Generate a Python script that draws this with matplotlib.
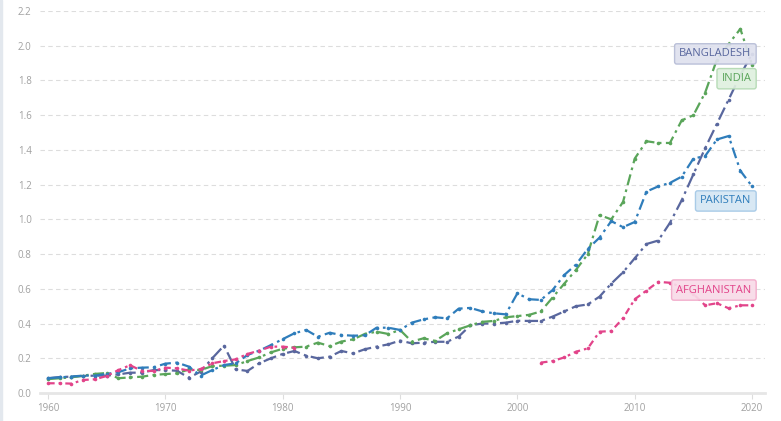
import numpy as np
import matplotlib
matplotlib.use("Agg")
from matplotlib import pyplot as plt
from matplotlib.patches import Rectangle

plt.rcParams["font.family"] = ["Open Sans", "DejaVu Sans"]

years = list(range(1960, 2021))

bangladesh = [0.085, 0.092, 0.094, 0.098, 0.10, 0.10, 0.107, 0.117, 0.117, 0.132,
              0.132, 0.128, 0.088, 0.123, 0.20, 0.273, 0.136, 0.127, 0.171, 0.20,
              0.225, 0.242, 0.215, 0.20, 0.209, 0.242, 0.228, 0.252, 0.267, 0.28,
              0.302, 0.286, 0.29, 0.295, 0.295, 0.325, 0.39, 0.40, 0.40, 0.405,
              0.416, 0.415, 0.415, 0.44, 0.47, 0.50, 0.51, 0.555, 0.63, 0.695,
              0.776, 0.858, 0.878, 0.98, 1.11, 1.26, 1.41, 1.55, 1.69, 1.83, 1.955]

india = [0.08, 0.085, 0.09, 0.10, 0.11, 0.115, 0.085, 0.09, 0.094, 0.104,
         0.109, 0.113, 0.136, 0.132, 0.155, 0.157, 0.161, 0.184, 0.205, 0.234,
         0.255, 0.263, 0.267, 0.29, 0.27, 0.296, 0.309, 0.34, 0.353, 0.34,
         0.363, 0.296, 0.315, 0.30, 0.344, 0.367, 0.39, 0.41, 0.415, 0.436,
         0.443, 0.45, 0.47, 0.55, 0.63, 0.71, 0.80, 1.025, 1.0, 1.10,
         1.35, 1.45, 1.44, 1.44, 1.57, 1.60, 1.73, 1.92, 2.01, 2.097, 1.89]

pakistan = [0.085, 0.09, 0.095, 0.10, 0.10, 0.11, 0.12, 0.142, 0.146, 0.148,
            0.169, 0.175, 0.152, 0.10, 0.132, 0.161, 0.171, 0.219, 0.244, 0.276,
            0.31, 0.344, 0.363, 0.324, 0.347, 0.334, 0.33, 0.332, 0.376, 0.376,
            0.363, 0.405, 0.424, 0.436, 0.43, 0.486, 0.49, 0.47, 0.459, 0.453,
            0.574, 0.54, 0.536, 0.593, 0.68, 0.74, 0.83, 0.895, 0.99, 0.955,
            0.985, 1.16, 1.19, 1.21, 1.246, 1.35, 1.365, 1.46, 1.48, 1.28, 1.19]

afghanistan = [0.056, 0.056, 0.054, 0.075, 0.079, 0.098, 0.132, 0.16, 0.127, 0.127,
               0.146, 0.142, 0.129, 0.138, 0.171, 0.184, 0.194, 0.225, 0.244, 0.267,
               0.267, 0.261, None, None, None, None, None, None, None, None,
               None, None, None, None, None, None, None, None, None, None,
               None, None, 0.175, 0.184, 0.205, 0.238, 0.257, 0.353, 0.357, 0.43,
               0.54, 0.59, 0.64, 0.635, 0.61, 0.57, 0.505, 0.517, 0.488, 0.505, 0.505]

names = ["BANGLADESH", "INDIA", "PAKISTAN", "AFGHANISTAN"]
label_y = [1.953, 1.81, 1.106, 0.593]
colors = ["#59679e", "#5aa55a", "#2f7dbb", "#e2448a"]
box_fc = ["#dfe1ee", "#dff0df", "#d5e6f4", "#f8dbe8"]
box_ec = ["#b6bcd6", "#b2d9b2", "#a4c8e6", "#f2a9c9"]
dashes = [(0, (6, 2, 1.2, 2)), (0, (5, 2, 1.2, 2)), (0, (5, 2, 1.2, 2)), (0, (3, 1.8, 1.2, 1.8))]

fig = plt.figure(figsize=(7.81, 4.21), dpi=100)
ax = fig.add_axes([40 / 781, 1 - 393 / 421, 725 / 781, 382 / 421])

series = [bangladesh, india, pakistan, afghanistan]
for vals, c, ls in zip(series, colors, dashes):
    y = np.array([np.nan if v is None else v for v in vals])
    ax.plot(years, y, color=c, lw=1.6, linestyle=ls, zorder=3,
            marker="o", markersize=2.6, markeredgewidth=0)

for name, ly, c, fc, ec in zip(names, label_y, colors, box_fc, box_ec):
    ax.text(2019.95, ly, name, color=c, fontsize=8, ha="right", va="center", zorder=5,
            bbox=dict(boxstyle="round,pad=0.42,rounding_size=0.2", fc=fc, ec=ec,
                      lw=1, alpha=0.92))

ax.set_xlim(1959.32, 2021.1)
ax.set_ylim(0, 2.2)
ax.set_yticks(np.arange(0, 2.21, 0.2))
ax.set_yticklabels(["%.1f" % v for v in np.arange(0, 2.21, 0.2)])
ax.set_xticks([1960, 1970, 1980, 1990, 2000, 2010, 2020])

ax.grid(axis="y", color="#dddddd", linestyle=(0, (4, 3)), lw=0.8)
ax.set_axisbelow(True)
for s in ["top", "right", "left"]:
    ax.spines[s].set_visible(False)
ax.spines["bottom"].set_color("#e6e6e6")
ax.spines["bottom"].set_linewidth(2)
ax.tick_params(axis="y", length=0, labelsize=7, labelcolor="#a0a0a0", pad=6)
ax.tick_params(axis="x", length=4, color="#dddddd", labelsize=7, labelcolor="#a0a0a0", pad=3)

fig.patches.append(Rectangle((0, 0), 2 / 781, 1, transform=fig.transFigure,
                             color="#e3e8ee", zorder=0))

fig.savefig("out.png", dpi=100)
